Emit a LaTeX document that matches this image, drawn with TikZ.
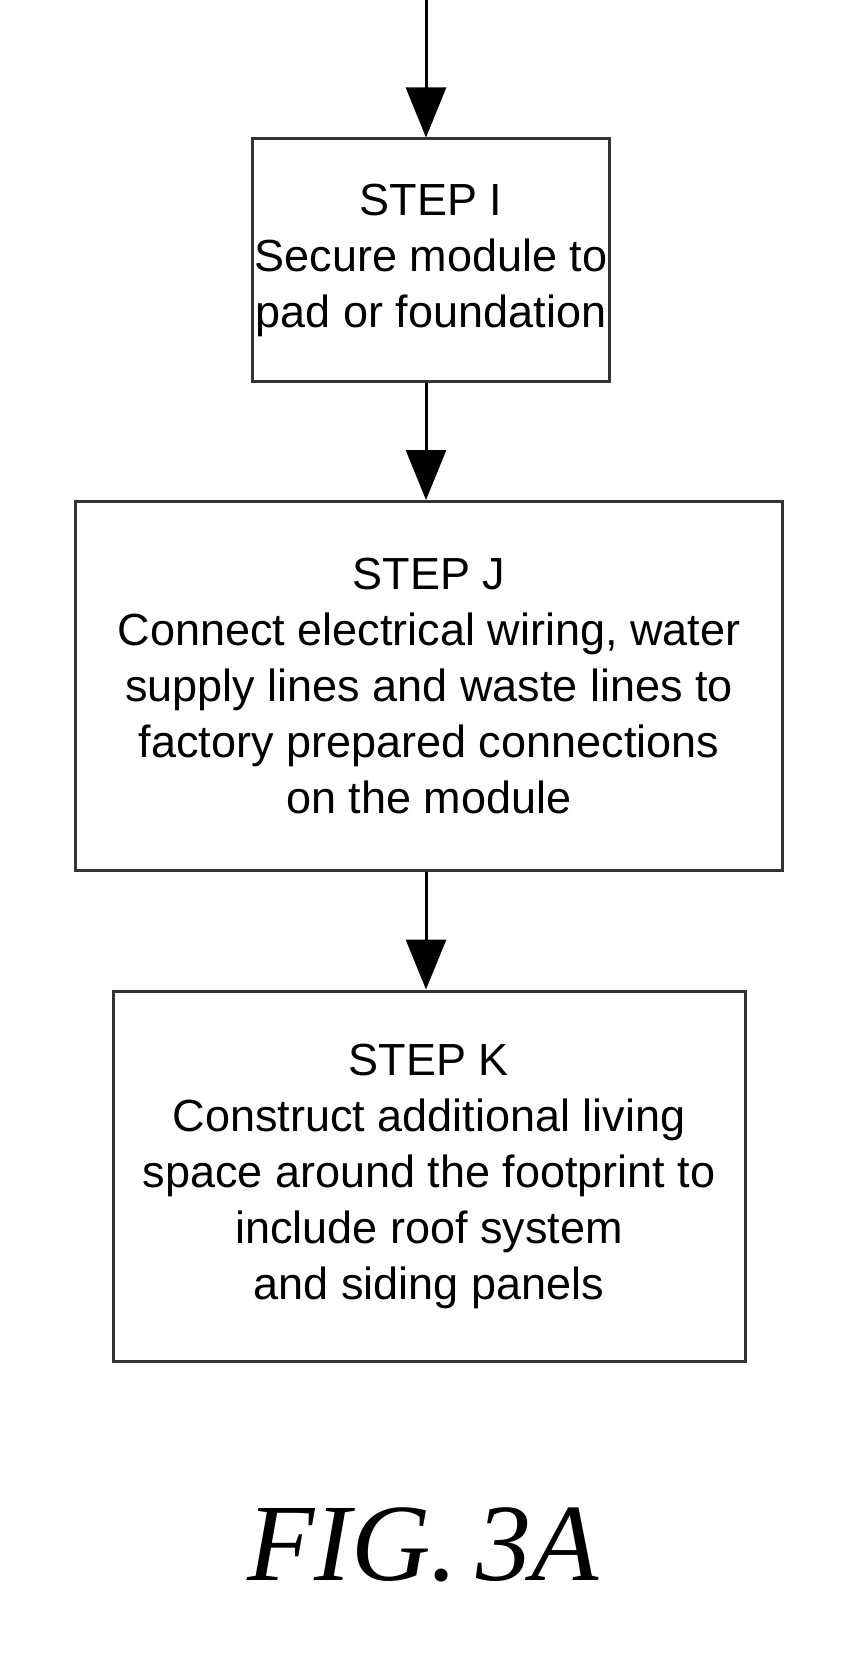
\documentclass[tikz,border=0pt]{standalone}
\usepackage{fontspec}
\setmainfont{Liberation Sans}
\newfontfamily\figfont{Liberation Serif}
\usetikzlibrary{arrows.meta}
\begin{document}
\begin{tikzpicture}[x=1pt,y=-1pt,
  box/.style={draw=black!80,line width=3pt,inner sep=0pt,align=center,
    font=\fontsize{45}{56}\selectfont},
  arr/.style={line width=3pt,-{Triangle[length=50pt,width=40pt]}}]
\useasboundingbox (0,0) rectangle (864,1656);
\node[box,minimum width=357pt,minimum height=242pt] (i) at (431,260)
  {STEP I\\Secure module to\\pad or foundation};
\node[box,minimum width=707pt,minimum height=369pt] (j) at (429,686)
  {STEP J\\Connect electrical wiring, water\\supply lines and waste lines to\\factory prepared connections\\on the module};
\node[box,minimum width=632pt,minimum height=370pt] (k) at (429,1176)
  {STEP K\\Construct additional living\\space around the footprint to\\include roof system\\and siding panels};
\coordinate (s) at (426,0);
\draw[arr] (s) -- (s|-i.north);
\draw[arr] (i.south-|s) -- (s|-j.north);
\draw[arr] (j.south-|s) -- (s|-k.north);
\node[font=\figfont\itshape\fontsize{110}{110}\selectfont] (f) at (423,1545) {FIG.\,3A};
\end{tikzpicture}
\end{document}
